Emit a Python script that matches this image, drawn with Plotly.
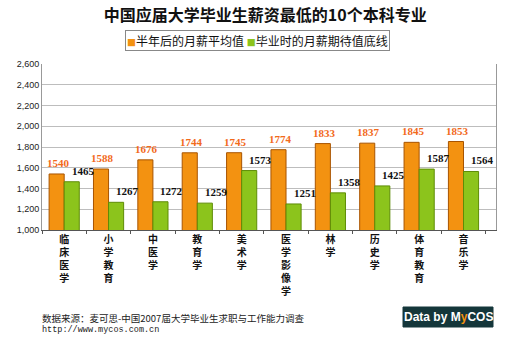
import plotly.graph_objects as go

categories = ["临床医学", "小学教育", "中医学", "教育学", "美术学", "医学影像学", "林学", "历史学", "体育教育", "音乐学"]
avg_salary = [1540, 1588, 1676, 1744, 1745, 1774, 1833, 1837, 1845, 1853]
expected = [1465, 1267, 1272, 1259, 1573, 1251, 1358, 1425, 1587, 1564]
y_ticks = [1000, 1200, 1400, 1600, 1800, 2000, 2200, 2400, 2600]
series_names = ["半年后的月薪平均值", "毕业时的月薪期待值底线"]
colors = ["#F39211", "#8CC41C"]

cat_labels = ["<br>".join(list(c)) for c in categories]

fig = go.Figure()
fig.add_trace(go.Bar(x=cat_labels, y=avg_salary, name=series_names[0],
                     marker=dict(color=colors[0], line=dict(color="#A85400", width=1))))
fig.add_trace(go.Bar(x=cat_labels, y=expected, name=series_names[1],
                     marker=dict(color=colors[1], line=dict(color="#5E8C06", width=1))))

for c, v in zip(cat_labels, avg_salary):
    fig.add_annotation(x=c, y=v, text=str(v), showarrow=False, yanchor="bottom", yshift=3, xshift=-6,
                       font=dict(family="Liberation Serif", size=11, color="#F26A1B", weight="bold"))
for c, v in zip(cat_labels, expected):
    fig.add_annotation(x=c, y=v, text=str(v), showarrow=False, yanchor="bottom", yshift=3, xshift=19,
                       font=dict(family="Liberation Serif", size=11, color="#111111", weight="bold"))

# custom legend box
legend_text = (f"<span style='color:{colors[0]};font-size:9px'>■</span>{series_names[0]} "
               f"<span style='color:{colors[1]};font-size:9px'>■</span>{series_names[1]}")
fig.add_annotation(xref="paper", yref="paper", x=(257-42)/454, y=(230-40)/166, xanchor="center", yanchor="middle",
                   text=legend_text, showarrow=False, bordercolor="#888888", borderwidth=1, borderpad=1,
                   bgcolor="white", font=dict(family="Noto Sans CJK SC", size=12, color="#111111"))

# footer
fig.add_annotation(xref="paper", yref="paper", x=-0.005, y=(230-318)/166, xanchor="left", yanchor="middle",
                   text="数据来源：麦可思-中国2007届大学毕业生求职与工作能力调查", showarrow=False,
                   font=dict(family="Noto Sans CJK SC", size=9.5, color="#222222"))
fig.add_annotation(xref="paper", yref="paper", x=-0.005, y=(230-330)/166, xanchor="left", yanchor="middle",
                   text="http://www.mycos.com.cn", showarrow=False,
                   font=dict(family="Liberation Mono", size=8.5, color="#222222"))
# logo
fig.add_shape(type="rect", xref="paper", yref="paper", x0=(403-42)/454, x1=(493-42)/454,
              y0=(230-327)/166, y1=(230-307)/166, fillcolor="#14363A", line=dict(color="#14363A", width=1),
              layer="above")
fig.add_annotation(xref="paper", yref="paper", x=(448-42)/454, y=(230-317)/166, xanchor="center", yanchor="middle",
                   text="Data by M<span style='color:#F39211'>y</span>COS", showarrow=False,
                   font=dict(family="Liberation Sans", size=12, color="white", weight="bold"))

fig.update_layout(
    width=515, height=344,
    margin=dict(l=42, r=19, t=64, b=114),
    paper_bgcolor="white", plot_bgcolor="white",
    barmode="group", bargap=0.32, bargroupgap=0,
    title=dict(text="中国应届大学毕业生薪资最低的10个本科专业", x=0.515, xanchor="center", y=0.955, yanchor="middle",
               font=dict(family="Noto Sans CJK SC", size=16, color="#111111", weight="bold")),
    showlegend=False,
    font=dict(family="Liberation Sans"),
)
fig.update_yaxes(range=[1000, 2600], tickvals=y_ticks, tickformat=",d", showgrid=True, gridcolor="#BDBDBD",
                 showline=True, linecolor="#999999", mirror=True, ticks="", zeroline=False,
                 tickfont=dict(family="Liberation Sans", size=9, color="#222222"))
fig.update_xaxes(showline=True, linecolor="#555555", ticks="outside", tickson="boundaries", ticklen=3,
                 tickcolor="#555555", tickangle=0,
                 tickfont=dict(family="Noto Sans CJK SC", size=10, color="#111111", weight="bold"))

fig.write_html("out.html")
